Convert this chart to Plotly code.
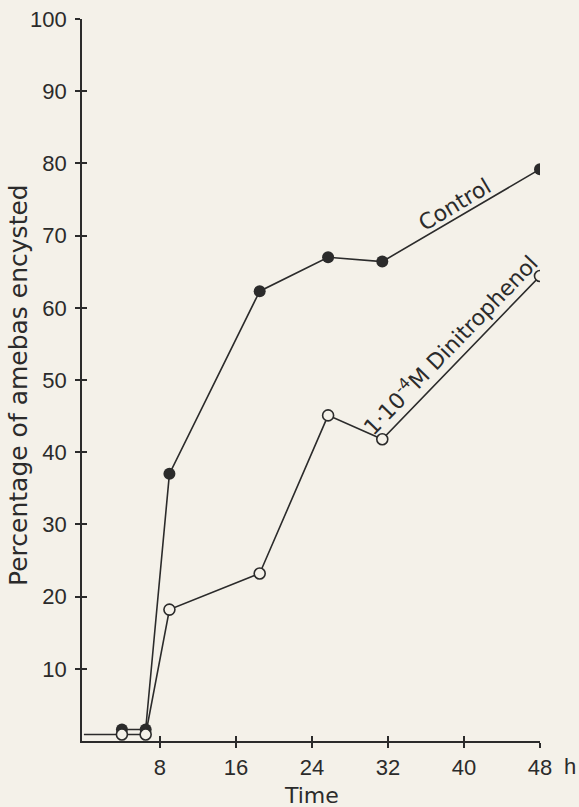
import plotly.graph_objects as go

# ---- data ----
time_control = [4, 6.5, 9, 18.5, 25.7, 31.4, 48]
pct_control = [1.6, 1.6, 37.0, 62.3, 67.0, 66.4, 79.2]

time_dnp = [0, 4, 6.5, 9, 18.5, 25.7, 31.4, 48]
pct_dnp = [0.9, 0.9, 0.9, 18.2, 23.2, 45.1, 41.8, 64.4]

x_ticks = [8, 16, 24, 32, 40, 48]
x_ticklabels = ["8", "16", "24", "32", "40", "48"]
y_ticks = [10, 20, 30, 40, 50, 60, 70, 80, 90, 100]
y_ticklabels = ["10", "20", "30", "40", "50", "60", "70", "80", "90", "100"]

label_control = "Control"
label_dnp = "1\u00b710<sup>-4</sup>M Dinitrophenol"
x_title = "Time"
y_title = "Percentage of amebas encysted"
x_unit = "h"

BG = "#f4f1e9"
INK = "#2b2b2b"
TICKFONT = dict(family="Liberation Sans", size=22, color=INK)
TEXTFONT = dict(family="DejaVu Sans", size=22, color=INK)
YTITLEFONT = dict(family="DejaVu Sans", size=25, color=INK)

fig = go.Figure()

fig.add_trace(go.Scatter(
    x=time_control, y=pct_control, mode="lines+markers",
    line=dict(color=INK, width=1.6),
    marker=dict(symbol="circle", size=12, color=INK, line=dict(color=INK, width=0)),
    showlegend=False, hoverinfo="skip"))

dnp_sizes = [0] + [11] * (len(time_dnp) - 1)
fig.add_trace(go.Scatter(
    x=time_dnp, y=pct_dnp, mode="lines+markers",
    line=dict(color=INK, width=1.6),
    marker=dict(symbol="circle", size=dnp_sizes, color=BG, opacity=1,
                line=dict(color=INK, width=1.6)),
    showlegend=False, hoverinfo="skip"))

XR = [-0.2, 48]
YR = [0, 100]

fig.update_layout(
    width=579, height=807, autosize=False,
    margin=dict(l=82, r=39, t=19, b=66, autoexpand=False),
    paper_bgcolor=BG, plot_bgcolor=BG,
    font=TEXTFONT,
    xaxis=dict(range=XR, tickvals=x_ticks, ticktext=x_ticklabels, automargin=False,
               showgrid=False, zeroline=False, showline=True, linecolor=INK, linewidth=1.6,
               ticks="outside", ticklen=5, tickwidth=1.6, tickcolor=INK,
               tickfont=TICKFONT, ticklabelstandoff=1, title=dict(text="")),
    yaxis=dict(range=YR, tickvals=y_ticks, ticktext=y_ticklabels, automargin=False,
               showgrid=False, zeroline=False, showline=True, linecolor=INK, linewidth=1.6,
               ticks="outside", ticklen=5, tickwidth=1.6, tickcolor=INK,
               tickfont=TICKFONT, ticklabelstandoff=4, title=dict(text="")),
    xaxis2=dict(range=XR, overlaying="x", side="bottom", tickvals=x_ticks, automargin=False,
                showticklabels=False, showgrid=False, zeroline=False, showline=False,
                ticks="inside", ticklen=5, tickwidth=1.6, tickcolor=INK),
    yaxis2=dict(range=YR, overlaying="y", side="left", tickvals=y_ticks, automargin=False,
                showticklabels=False, showgrid=False, zeroline=False, showline=False,
                ticks="inside", ticklen=5, tickwidth=1.6, tickcolor=INK),
)

# invisible trace to activate the overlay axes (crossing ticks)
fig.add_trace(go.Scatter(x=[None], y=[None], xaxis="x2", yaxis="y2",
                         showlegend=False, hoverinfo="skip"))

fig.add_annotation(text=y_title, xref="paper", yref="paper", x=0, y=0.5,
                   xshift=-64, yshift=-5, textangle=-90, showarrow=False, font=YTITLEFONT,
                   xanchor="center", yanchor="middle")

fig.add_annotation(text=x_title, xref="paper", yref="paper", x=0.5, y=0,
                   yshift=-54, showarrow=False, font=TEXTFONT,
                   xanchor="center", yanchor="middle")

fig.add_annotation(text=x_unit, xref="x", yref="paper", x=48, y=0,
                   xshift=30, yshift=-25, showarrow=False, font=TICKFONT,
                   xanchor="center", yanchor="middle")

fig.add_annotation(text=label_control, xref="x", yref="y", x=39.05, y=74.3,
                   textangle=-31, showarrow=False, font=TEXTFONT)
fig.add_annotation(text=label_dnp, xref="x", yref="y", x=38.5, y=55.0,
                   textangle=-46, showarrow=False, font=TEXTFONT)

fig.write_html("out.html", config={"displayModeBar": False},
               post_script="document.body.style.margin='0';document.body.style.overflow='hidden';")
